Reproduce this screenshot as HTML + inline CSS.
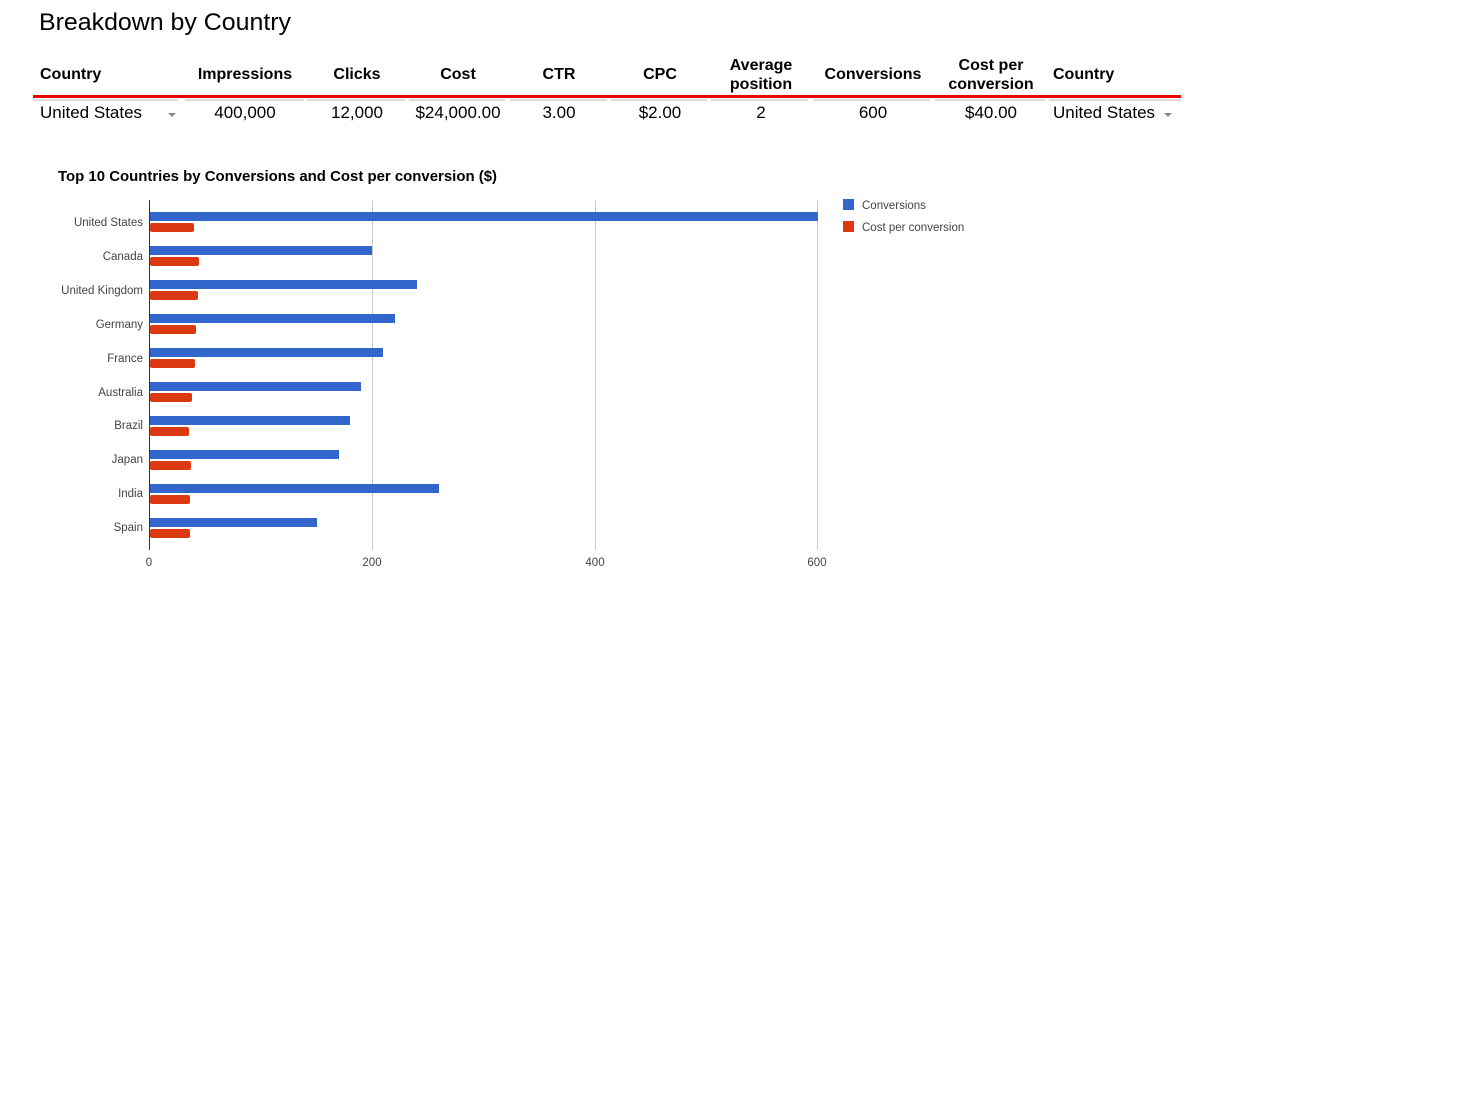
<!DOCTYPE html>
<html><head><meta charset="utf-8"><style>
body{margin:0;background:#fff;width:1478px;height:1098px;overflow:hidden}
svg{display:block;font-family:"Liberation Sans",sans-serif}
</style></head><body>
<svg width="1478" height="1098" xmlns="http://www.w3.org/2000/svg">
<text x="39" y="30" font-size="24" fill="#000" textLength="252" lengthAdjust="spacingAndGlyphs">Breakdown by Country</text>
<g font-size="16" font-weight="bold" fill="#000">
<text x="40" y="79">Country</text>
<text x="245" y="79" text-anchor="middle">Impressions</text>
<text x="357" y="79" text-anchor="middle">Clicks</text>
<text x="458" y="79" text-anchor="middle">Cost</text>
<text x="559" y="79" text-anchor="middle">CTR</text>
<text x="660" y="79" text-anchor="middle">CPC</text>
<text x="761" y="70" text-anchor="middle">Average</text>
<text x="761" y="89" text-anchor="middle">position</text>
<text x="873" y="79" text-anchor="middle">Conversions</text>
<text x="991" y="70" text-anchor="middle">Cost per</text>
<text x="991" y="89" text-anchor="middle">conversion</text>
<text x="1053" y="79">Country</text>
</g>
<rect x="33" y="95" width="1148" height="3" fill="#e00"/>
<g fill="#ddd">
<rect x="33" y="99" width="145" height="2"/><rect x="185" y="99" width="119" height="2"/>
<rect x="307" y="99" width="98" height="2"/><rect x="409" y="99" width="96" height="2"/>
<rect x="510" y="99" width="97" height="2"/><rect x="611" y="99" width="96" height="2"/>
<rect x="711" y="99" width="97" height="2"/><rect x="813" y="99" width="117" height="2"/>
<rect x="935" y="99" width="110" height="2"/><rect x="1049" y="99" width="132" height="2"/>
</g>
<g font-size="17" fill="#000">
<text x="40" y="118">United States</text>
<text x="245" y="118" text-anchor="middle">400,000</text>
<text x="357" y="118" text-anchor="middle">12,000</text>
<text x="458" y="118" text-anchor="middle">$24,000.00</text>
<text x="559" y="118" text-anchor="middle">3.00</text>
<text x="660" y="118" text-anchor="middle">$2.00</text>
<text x="761" y="118" text-anchor="middle">2</text>
<text x="873" y="118" text-anchor="middle">600</text>
<text x="991" y="118" text-anchor="middle">$40.00</text>
<text x="1053" y="118">United States</text>
</g>
<path d="M168 113h8l-4 4z M1164 113h8l-4 4z" fill="#888"/>
<text x="58" y="181" font-size="14.5" font-weight="bold" fill="#000" textLength="439" lengthAdjust="spacingAndGlyphs">Top 10 Countries by Conversions and Cost per conversion ($)</text>
<g stroke="#ccc" stroke-width="1">
<line x1="372.5" y1="200" x2="372.5" y2="550"/><line x1="595.5" y1="200" x2="595.5" y2="550"/><line x1="817.5" y1="200" x2="817.5" y2="550"/>
</g>
<line x1="149.5" y1="200" x2="149.5" y2="550" stroke="#333"/>
<g font-size="11.5" fill="#444" text-anchor="middle">
<text x="149" y="566">0</text><text x="372" y="566">200</text><text x="595" y="566">400</text><text x="817" y="566">600</text>
</g>
<g font-size="11.5" fill="#444" text-anchor="end">
<text x="143" y="226">United States</text><text x="143" y="260">Canada</text><text x="143" y="294">United Kingdom</text>
<text x="143" y="328">Germany</text><text x="143" y="362">France</text><text x="143" y="396">Australia</text>
<text x="143" y="429">Brazil</text><text x="143" y="463">Japan</text><text x="143" y="497">India</text><text x="143" y="531">Spain</text>
</g>
<g fill="#3366cc">
<rect x="150" y="212" width="668" height="9"/>
<rect x="150" y="246" width="222" height="9"/>
<rect x="150" y="280" width="267" height="9"/>
<rect x="150" y="314" width="245" height="9"/>
<rect x="150" y="348" width="233" height="9"/>
<rect x="150" y="382" width="211" height="9"/>
<rect x="150" y="416" width="200" height="9"/>
<rect x="150" y="450" width="189" height="9"/>
<rect x="150" y="484" width="289" height="9"/>
<rect x="150" y="518" width="167" height="9"/>
</g>
<g fill="#dc3912">
<rect x="150" y="223" width="44" height="9" rx="2"/>
<rect x="150" y="257" width="49" height="9" rx="2"/>
<rect x="150" y="291" width="48" height="9" rx="2"/>
<rect x="150" y="325" width="46" height="9" rx="2"/>
<rect x="150" y="359" width="45" height="9" rx="2"/>
<rect x="150" y="393" width="42" height="9" rx="2"/>
<rect x="150" y="427" width="39" height="9" rx="2"/>
<rect x="150" y="461" width="41" height="9" rx="2"/>
<rect x="150" y="495" width="40" height="9" rx="2"/>
<rect x="150" y="529" width="40" height="9" rx="2"/>
</g>
<rect x="843" y="199" width="11" height="11" fill="#3366cc"/>
<rect x="843" y="221" width="11" height="11" fill="#dc3912"/>
<g font-size="11.5" fill="#444">
<text x="862" y="209">Conversions</text><text x="862" y="231">Cost per conversion</text>
</g>
</svg>
</body></html>
